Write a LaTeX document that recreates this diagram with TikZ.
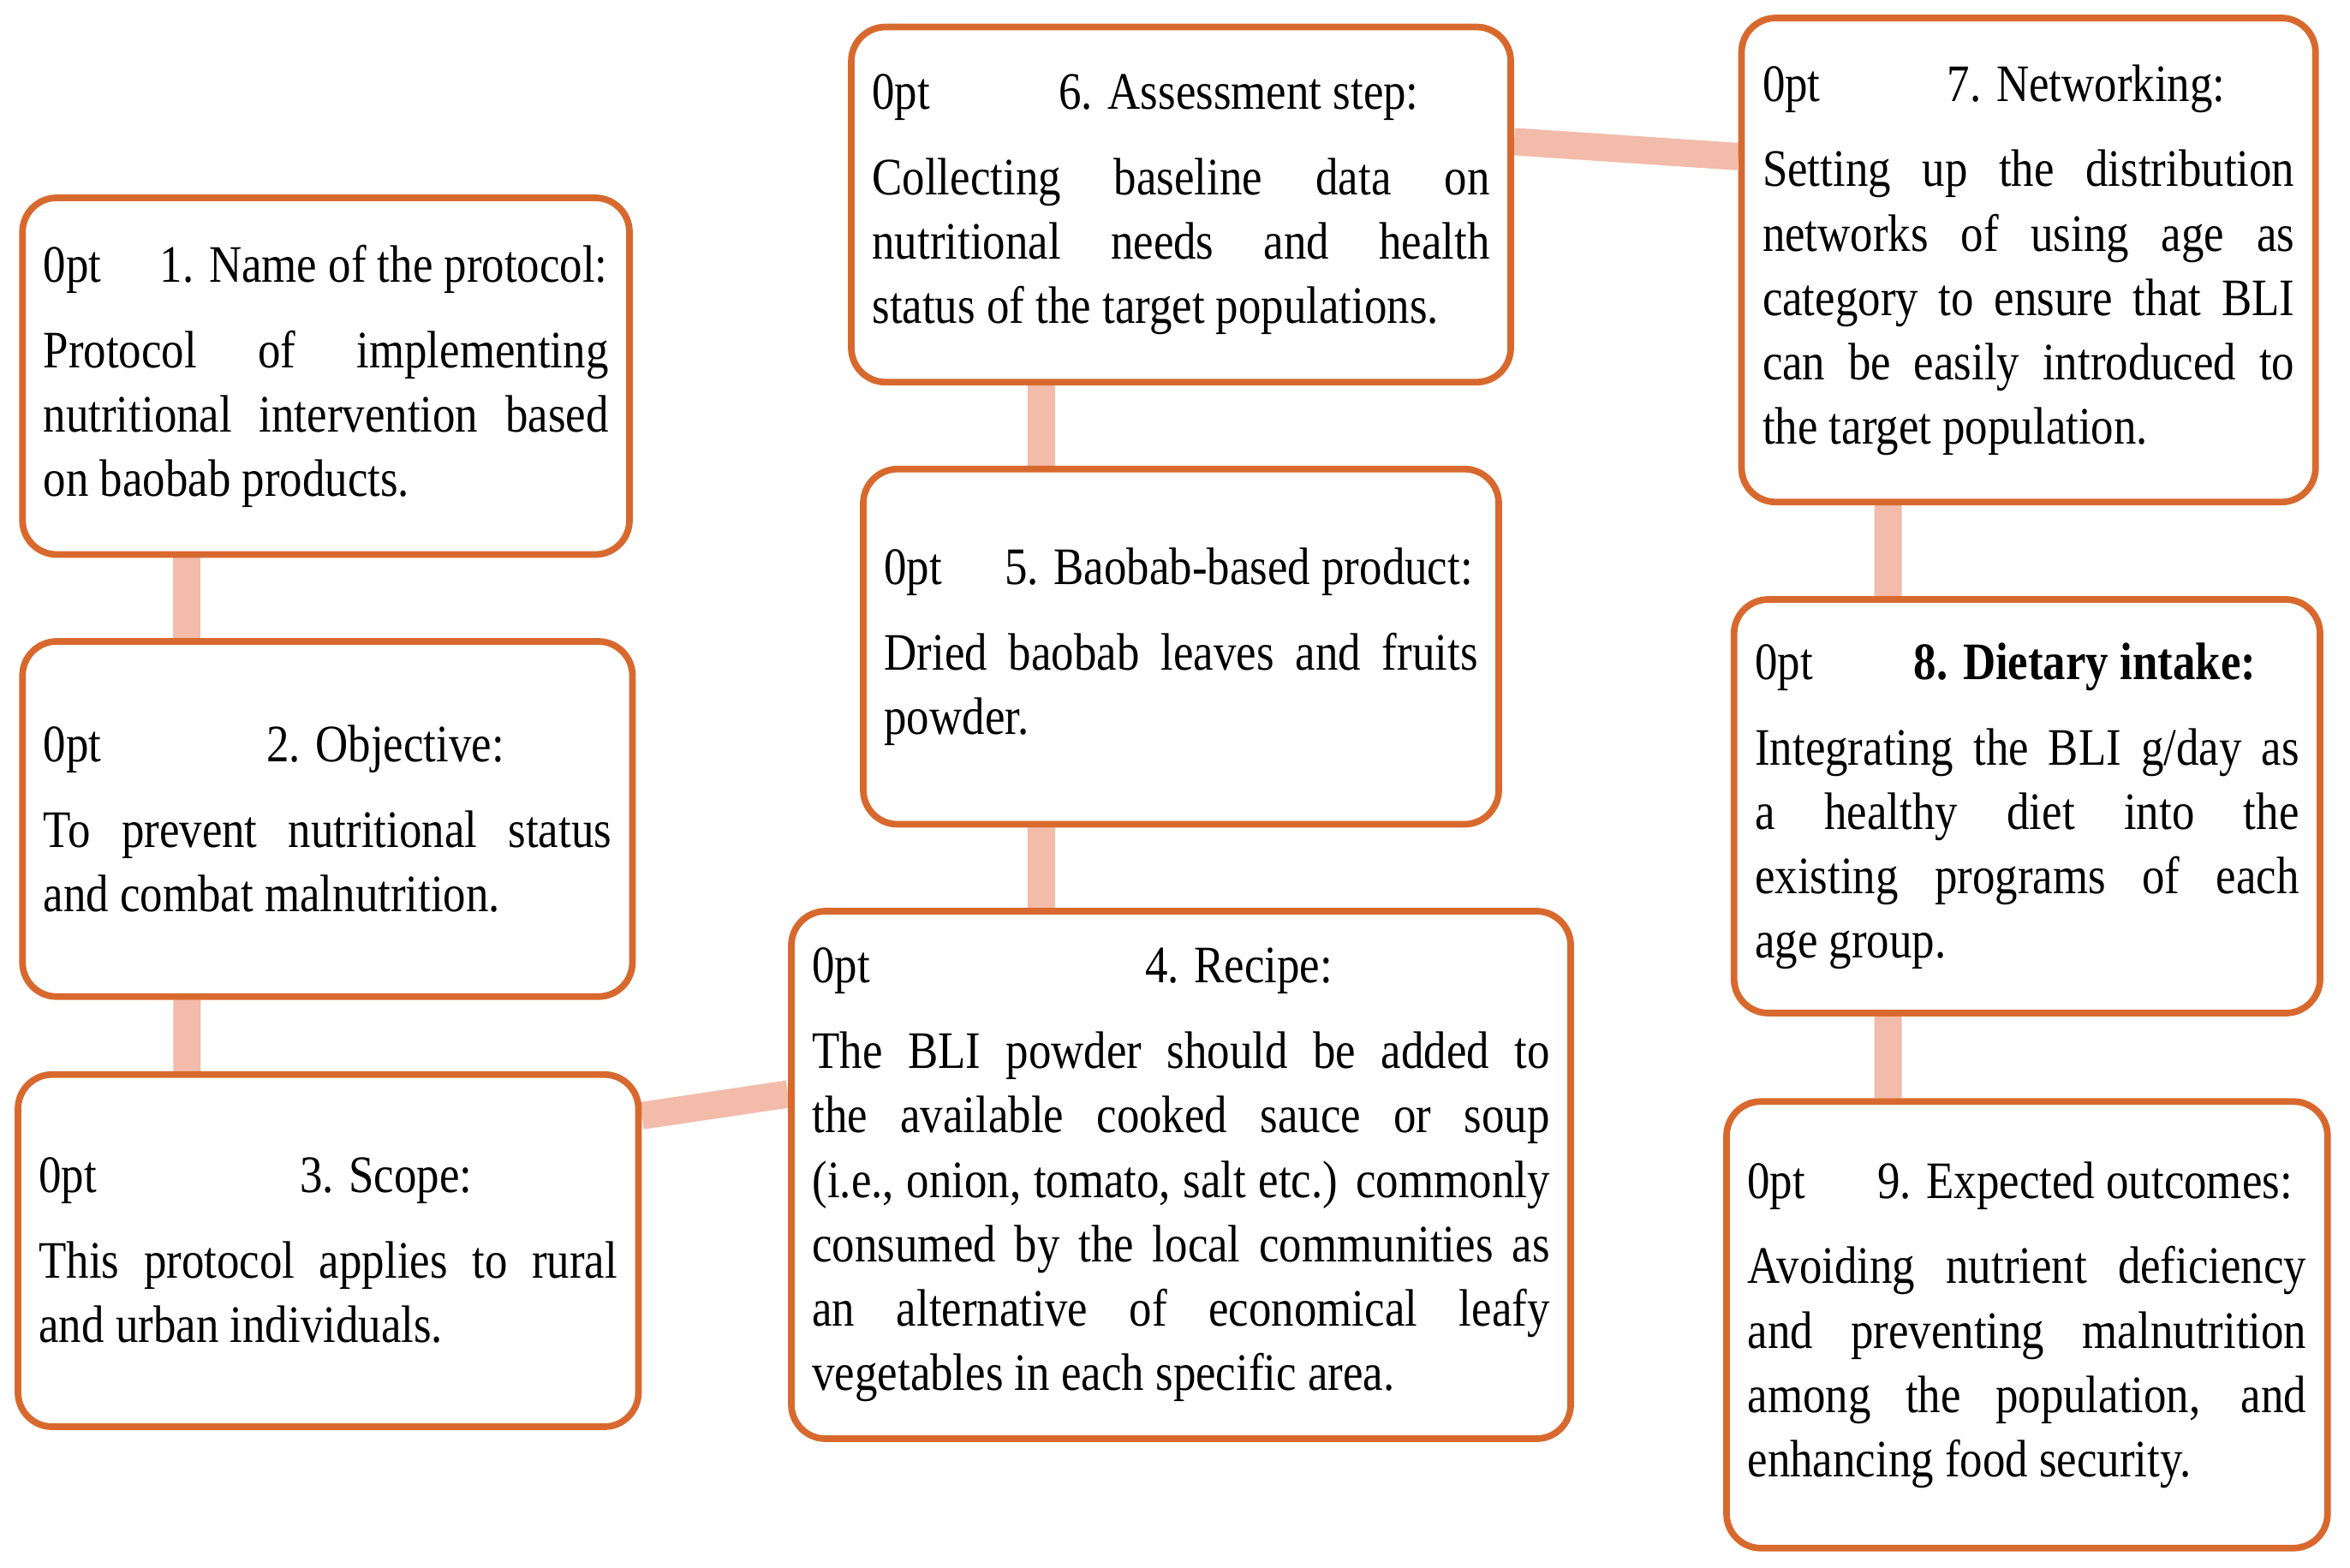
\documentclass[tikz,border=0pt]{standalone}
\usepackage{fontspec}
\setmainfont{Liberation Serif}[FakeStretch=0.86]
\usetikzlibrary{calc,backgrounds}
\definecolor{bord}{HTML}{D8692E}
\definecolor{conn}{HTML}{F3BBAA}
\tikzset{
  box/.style={draw=bord, line width=2.2pt, rounded corners=0.4cm, fill=white, inner sep=0pt, align=justify,
    font=\fontsize{17.5}{21.4}\selectfont\hyphenpenalty=10000\exhyphenpenalty=10000},
  link/.style={draw=conn, line width=0.32cm}
}
\newcommand\pbox[7]{%
  \pgfmathsetmacro\bw{(#4-#2)*0.0175}%
  \pgfmathsetmacro\bh{(#5-#3)*0.0175}%
  \pgfmathsetmacro\tw{(#4-#2-28)*0.0175}%
  \node[box, minimum width=\bw cm, minimum height=\bh cm, text width=\tw cm] (#1) at ({(#2+#4)/2},{(#3+#5)/2})
   {\makebox[\linewidth][c]{#6}\par\vspace{7pt}#7};}
\begin{document}
\begin{tikzpicture}[x=0.0175cm,y=-0.0175cm]
\useasboundingbox (0,0) rectangle (1568,1046);
\pbox{n1}{15}{132}{420}{370}{1. Name of the protocol:}{Protocol of implementing\linebreak nutritional intervention based\linebreak on baobab products.}
\pbox{n2}{15}{428}{422}{665}{2. Objective:}{To prevent nutritional status\linebreak and combat malnutrition.}
\pbox{n3}{12}{717}{426}{952}{3. Scope:}{This protocol applies to rural\linebreak and urban individuals.}
\pbox{n4}{528}{608}{1048}{960}{4. Recipe:}{The BLI powder should be added to\linebreak the available cooked sauce or soup\linebreak (i.e., onion, tomato, salt etc.) commonly\linebreak consumed by the local communities as\linebreak an alternative of economical leafy\linebreak vegetables in each specific area.}
\pbox{n5}{576}{313}{1000}{550}{5. Baobab-based product:}{Dried baobab leaves and fruits\linebreak powder.}
\pbox{n6}{568}{18}{1008}{255}{6. Assessment step:}{Collecting baseline data on\linebreak nutritional needs and health\linebreak status of the target populations.}
\pbox{n7}{1162}{12}{1545}{335}{7. Networking:}{Setting up the distribution\linebreak networks of using age as\linebreak category to ensure that BLI\linebreak can be easily introduced to\linebreak the target population.}
\pbox{n8}{1157}{400}{1548}{676}{\textbf{8. Dietary intake:}}{Integrating the BLI g/day as\linebreak a healthy diet into the\linebreak existing programs of each\linebreak age group.}
\pbox{n9}{1152}{735}{1553}{1033}{9. Expected outcomes:}{Avoiding nutrient deficiency\linebreak and preventing malnutrition\linebreak among the population, and\linebreak enhancing food security.}
\begin{scope}[on background layer]
\draw[link] (n1.south west) ++(112,0) -- ($(n2.north west)+(112,0)$);
\draw[link] (n2.south west) ++(112,0) -- ($(n3.north west)+(115,0)$);
\draw[link] ($(n3.east)+(0,-90)$) -- ($(n4.west)+(0,-54)$);
\draw[link] (n4.north west) ++(169,0) -- ($(n5.south west)+(121,0)$);
\draw[link] (n5.north west) ++(121,0) -- ($(n6.south west)+(129,0)$);
\draw[link] ($(n6.east)+(0,-42)$) -- ($(n7.west)+(0,-69)$);
\draw[link] (n7.south west) ++(100,0) -- ($(n8.north west)+(105,0)$);
\draw[link] (n8.south west) ++(105,0) -- ($(n9.north west)+(110,0)$);
\end{scope}
\end{tikzpicture}
\end{document}
